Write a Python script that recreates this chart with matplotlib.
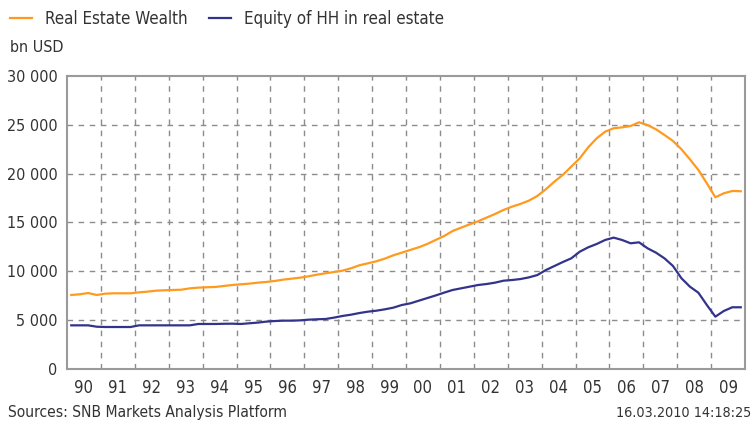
import numpy as np
import matplotlib
matplotlib.use("Agg")
import matplotlib.pyplot as plt
from matplotlib import font_manager as fm
from matplotlib.lines import Line2D

# quarterly data, 1990Q1 .. 2009Q4 (bn USD)
years = np.arange(1990, 2010)
real_estate_wealth = [
    7580, 7650, 7780, 7580,
    7710, 7750, 7750, 7750,
    7850, 7920, 8020, 8060,
    8090, 8120, 8260, 8330,
    8370, 8400, 8500, 8600,
    8670, 8740, 8840, 8910,
    9010, 9150, 9250, 9350,
    9490, 9660, 9800, 9930,
    10070, 10310, 10620, 10820,
    11030, 11300, 11640, 11910,
    12190, 12460, 12800, 13210,
    13620, 14130, 14470, 14810,
    15120, 15500, 15870, 16280,
    16620, 16900, 17240, 17720,
    18400, 19180, 19870, 20720,
    21570, 22700, 23620, 24300,
    24650, 24740, 24880, 25260,
    24980, 24540, 23960, 23350,
    22500, 21470, 20380, 19010,
    17580, 17990, 18230, 18200,
]
hh_equity = [
    4470, 4470, 4470, 4330,
    4300, 4300, 4300, 4300,
    4470, 4470, 4470, 4470,
    4470, 4470, 4470, 4610,
    4610, 4610, 4630, 4640,
    4610, 4680, 4750, 4850,
    4910, 4950, 4950, 4980,
    5050, 5090, 5120, 5260,
    5430, 5560, 5730, 5870,
    5970, 6110, 6280, 6550,
    6720, 6990, 7260, 7530,
    7820, 8090, 8260, 8430,
    8600, 8700, 8840, 9040,
    9110, 9210, 9380, 9620,
    10130, 10540, 10950, 11330,
    12010, 12460, 12800, 13210,
    13450, 13210, 12870, 12970,
    12360, 11910, 11330, 10550,
    9290, 8430, 7810, 6550,
    5360, 5940, 6320, 6320,
]
year_labels = ["90", "91", "92", "93", "94", "95", "96", "97", "98", "99",
               "00", "01", "02", "03", "04", "05", "06", "07", "08", "09"]
y_ticks = [0, 5000, 10000, 15000, 20000, 25000, 30000]

ORANGE = "#ff9a1f"
BLUE = "#33338c"
TEXT = "#333333"
GRID = "#8c8c8c"

# pick a narrow face if one is installed, else plain DejaVu Sans a bit smaller
fonts = fm.fontManager.ttflist
scale = 1.0
if any(f.name == "DejaVu Sans" and f.stretch == "condensed" for f in fonts):
    plt.rcParams['font.family'] = ['DejaVu Sans']
    plt.rcParams['font.stretch'] = 'condensed'
elif any(f.name == "Liberation Sans Narrow" for f in fonts):
    plt.rcParams['font.family'] = ['Liberation Sans Narrow', 'DejaVu Sans']
else:
    plt.rcParams['font.family'] = ['DejaVu Sans']
    scale = 0.9
plt.rcParams['font.size'] = 11.5 * scale

# x positions: middle of each quarter
t = years[0] + (np.arange(len(real_estate_wealth)) + 0.5) / 4

fig = plt.figure(figsize=(7.55, 4.26), dpi=100)
ax = fig.add_axes([67 / 755, 1 - 369 / 426, (745 - 67) / 755, (369 - 76) / 426])

ax.plot(t, real_estate_wealth, color=ORANGE, lw=1.6, zorder=3)
ax.plot(t, hh_equity, color=BLUE, lw=1.6, zorder=3)

ax.set_xlim(1990, 2010)
ax.set_ylim(0, 30000)

ax.set_yticks(y_ticks)
ax.set_yticklabels([f"{v:,}".replace(",", " ") for v in y_ticks], color=TEXT)
ax.set_xticks(years + 0.5)
ax.set_xticklabels(year_labels, color=TEXT, fontsize=12 * scale)
ax.tick_params(which="both", length=0)
ax.tick_params(axis="x", pad=7)
ax.tick_params(axis="y", pad=7)

ax.grid(False)
for v in y_ticks[1:-1]:
    ax.axhline(v, color=GRID, lw=1, ls=(0, (4, 4)), zorder=1)
for yr in years[1:]:
    ax.axvline(yr, color=GRID, lw=1, ls=(0, (4, 4)), zorder=1)

for s in ax.spines.values():
    s.set_color("#9a9a9a")
    s.set_linewidth(1.5)

handles = [Line2D([], [], color=ORANGE, lw=1.6), Line2D([], [], color=BLUE, lw=1.6)]
fig.legend(handles, ["Real Estate Wealth", "Equity of HH in real estate"],
           loc="upper left", bbox_to_anchor=(10 / 755, 1 - 10 / 426), ncol=2, frameon=False,
           borderpad=0, borderaxespad=0, prop={"size": 12.2 * scale},
           handlelength=1.3, columnspacing=1.3, handletextpad=0.75, labelcolor=TEXT)

fig.text(10 / 755, 1 - 48 / 426, "bn USD", color=TEXT, va="center", fontsize=11.5 * scale)
fig.text(8 / 755, 1 - 413 / 426, "Sources: SNB Markets Analysis Platform", color=TEXT,
         va="center", fontsize=11.2 * scale)
fig.text(751 / 755, 1 - 413 / 426, "16.03.2010 14:18:25", color=TEXT, va="center", ha="right",
         fontsize=10.3 * scale)

fig.savefig("out.png", dpi=100)
